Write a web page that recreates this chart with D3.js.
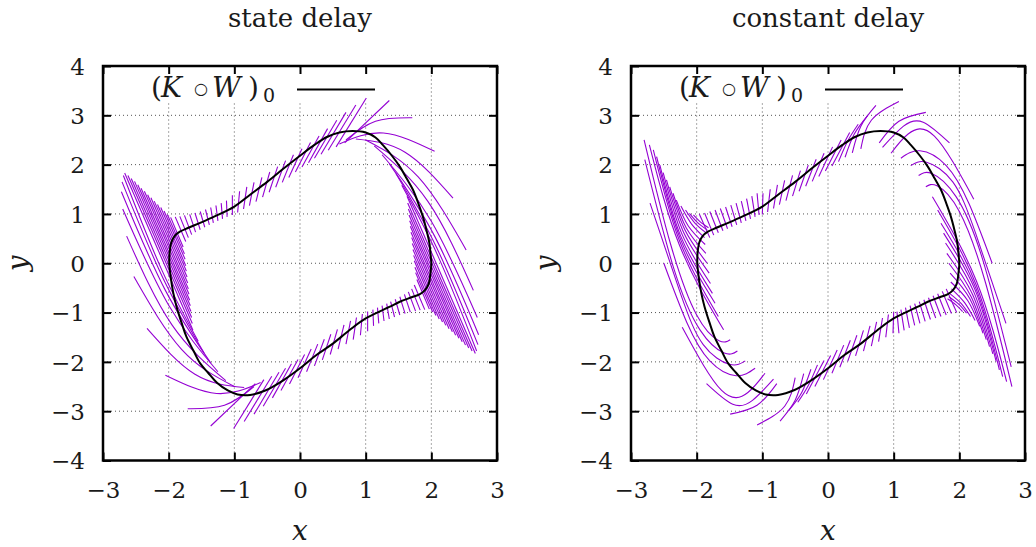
<!DOCTYPE html>
<html>
<head>
<meta charset="utf-8">
<script src="https://cdn.jsdelivr.net/npm/d3@7"></script>
<style>
  body { margin: 0; background: #fff; }
  text { font-family: "DejaVu Serif", serif; fill: #1a1a1a; }
</style>
</head>
<body>
<div id="chart"></div>
<script>
const width = 1036;
const height = 547;

// Data ///////////////////////////////////////////////////
const panelTitles = ["state delay", "constant delay"];
const legendParts = ["(", "K", "\u25CB", "W", ")", "0"];
const xTicks = [-3, -2, -1, 0, 1, 2, 3];
const yTicks = [-4, -3, -2, -1, 0, 1, 2, 3, 4];

// periodic orbit (K o W)_0
const cycle = [
  [-1.99, 0.0], [-1.985, 0.22], [-1.96, 0.42], [-1.91, 0.55], [-1.83, 0.64],
  [-1.7, 0.72], [-1.52, 0.82], [-1.3, 0.95], [-1.0, 1.15], [-0.76, 1.39],
  [-0.5, 1.65], [-0.25, 1.92], [0.0, 2.18], [0.22, 2.4], [0.41, 2.56],
  [0.6, 2.65], [0.8, 2.68], [1.0, 2.65], [1.15, 2.55], [1.26, 2.4],
  [1.4, 2.18], [1.52, 1.96], [1.62, 1.73], [1.72, 1.49], [1.8, 1.22],
  [1.87, 0.95], [1.93, 0.65], [1.97, 0.41], [1.99, 0.15], [2.0, 0.0],
  [1.985, -0.22], [1.96, -0.42], [1.9, -0.55], [1.82, -0.63], [1.7, -0.69],
  [1.52, -0.78], [1.37, -0.88], [1.0, -1.12], [0.76, -1.35], [0.5, -1.63],
  [0.25, -1.86], [0.0, -2.13], [-0.25, -2.37], [-0.51, -2.57], [-0.76, -2.67],
  [-0.95, -2.66], [-1.1, -2.58], [-1.26, -2.43], [-1.4, -2.22], [-1.52, -2.03],
  [-1.62, -1.78], [-1.73, -1.49], [-1.8, -1.22], [-1.88, -0.88], [-1.93, -0.6],
  [-1.97, -0.27]
];

// fibres, state delay: flat x,y lists (2 or 3 points each)
const stateFibers = [
  [-2.67, 1.83, -1.63, -1.36], [-2.62, 1.78, -1.64, -1.22], [-2.57, 1.72, -1.65, -1.1],
  [-2.52, 1.66, -1.66, -0.98], [-2.47, 1.59, -1.67, -0.86], [-2.42, 1.52, -1.68, -0.75],
  [-2.37, 1.46, -1.69, -0.63], [-2.32, 1.39, -1.7, -0.52], [-2.27, 1.33, -1.71, -0.4],
  [-2.22, 1.26, -1.72, -0.28], [-2.17, 1.19, -1.73, -0.16], [-2.12, 1.13, -1.74, -0.05],
  [-2.07, 1.06, -1.75, 0.08], [-2.02, 0.99, -1.76, 0.19], [-1.97, 0.93, -1.78, 0.33],
  [-1.9, 0.94, -1.74, 0.44], [-1.83, 0.95, -1.7, 0.52], [-1.76, 0.97, -1.65, 0.58],
  [-1.68, 0.99, -1.59, 0.63], [-1.6, 1.02, -1.52, 0.68], [-1.52, 1.05, -1.45, 0.73],
  [-1.44, 1.09, -1.38, 0.78], [-1.36, 1.13, -1.32, 0.82], [-1.28, 1.17, -1.25, 0.86],
  [-1.2, 1.22, -1.18, 0.9], [-1.12, 1.27, -1.11, 0.94],
  [-1.03, 0.98, -1.03, 1.38], [-0.95, 1.03, -0.92, 1.46], [-0.86, 1.1, -0.81, 1.55],
  [-0.77, 1.17, -0.7, 1.64], [-0.67, 1.25, -0.58, 1.74], [-0.57, 1.34, -0.46, 1.85],
  [-0.47, 1.44, -0.34, 1.96], [-0.37, 1.54, -0.22, 2.08], [-0.27, 1.64, -0.1, 2.2],
  [-0.17, 1.74, 0.03, 2.32], [-0.07, 1.85, 0.16, 2.45], [0.03, 1.95, 0.29, 2.58],
  [0.13, 2.04, 0.42, 2.73], [0.22, 2.13, 0.56, 2.9], [0.32, 2.21, 0.7, 3.06],
  [0.43, 2.29, 0.85, 3.21], [0.55, 2.36, 1.01, 3.35], [0.68, 2.44, 1.36, 3.3],
  [0.7, 2.5, 1.15, 2.88, 1.71, 2.95], [0.6, 2.42, 1.27, 2.64, 2.05, 2.27],
  [0.85, 2.52, 1.6, 2.25, 2.33, 1.32], [1.0, 2.5, 1.8, 1.75, 2.53, 0.27],
  [1.13, 2.38, 1.95, 1.25, 2.64, -0.55], [1.25, 2.2, 2.0, 0.85, 2.7, -1.1],
  [1.36, 2.02, 2.05, 0.55, 2.72, -1.45], [1.46, 1.82, 2.08, 0.32, 2.71, -1.65],
  [1.55, 1.58, 2.1, 0.15, 2.69, -1.78],
  [2.67, -1.83, 1.63, 1.36], [2.62, -1.78, 1.64, 1.22], [2.57, -1.72, 1.65, 1.1],
  [2.52, -1.66, 1.66, 0.98], [2.47, -1.59, 1.67, 0.86], [2.42, -1.52, 1.68, 0.75],
  [2.37, -1.46, 1.69, 0.63], [2.32, -1.39, 1.7, 0.52], [2.27, -1.33, 1.71, 0.4],
  [2.22, -1.26, 1.72, 0.28], [2.17, -1.19, 1.73, 0.16], [2.12, -1.13, 1.74, 0.05],
  [2.07, -1.06, 1.75, -0.08], [2.02, -0.99, 1.76, -0.19], [1.97, -0.93, 1.78, -0.33],
  [1.9, -0.94, 1.74, -0.44], [1.83, -0.95, 1.7, -0.52], [1.76, -0.97, 1.65, -0.58],
  [1.68, -0.99, 1.59, -0.63], [1.6, -1.02, 1.52, -0.68], [1.52, -1.05, 1.45, -0.73],
  [1.44, -1.09, 1.38, -0.78], [1.36, -1.13, 1.32, -0.82], [1.28, -1.17, 1.25, -0.86],
  [1.2, -1.22, 1.18, -0.9], [1.12, -1.27, 1.11, -0.94],
  [1.03, -0.98, 1.03, -1.38], [0.95, -1.03, 0.92, -1.46], [0.86, -1.1, 0.81, -1.55],
  [0.77, -1.17, 0.7, -1.64], [0.67, -1.25, 0.58, -1.74], [0.57, -1.34, 0.46, -1.85],
  [0.47, -1.44, 0.34, -1.96], [0.37, -1.54, 0.22, -2.08], [0.27, -1.64, 0.1, -2.2],
  [0.17, -1.74, -0.03, -2.32], [0.07, -1.85, -0.16, -2.45], [-0.03, -1.95, -0.29, -2.58],
  [-0.13, -2.04, -0.42, -2.73], [-0.22, -2.13, -0.56, -2.9], [-0.32, -2.21, -0.7, -3.06],
  [-0.43, -2.29, -0.85, -3.21], [-0.55, -2.36, -1.01, -3.35], [-0.68, -2.44, -1.36, -3.3],
  [-0.7, -2.5, -1.15, -2.88, -1.71, -2.95], [-0.6, -2.42, -1.27, -2.64, -2.05, -2.27],
  [-0.85, -2.52, -1.6, -2.25, -2.33, -1.32], [-1.0, -2.5, -1.8, -1.75, -2.53, -0.27],
  [-1.13, -2.38, -1.95, -1.25, -2.64, 0.55], [-1.25, -2.2, -2.0, -0.85, -2.7, 1.1],
  [-1.36, -2.02, -2.05, -0.55, -2.72, 1.45], [-1.46, -1.82, -2.08, -0.32, -2.71, 1.65],
  [-1.55, -1.58, -2.1, -0.15, -2.69, 1.78]
];

// fibres, constant delay
const constFibers = [
  [-2.72, 2.4, -2.26, 0.36, -1.59, -1.35], [-2.66, 2.3, -2.26, 0.45, -1.67, -1.08],
  [-2.61, 2.16, -2.25, 0.5, -1.72, -0.81], [-2.56, 1.99, -2.24, 0.54, -1.76, -0.61],
  [-2.51, 1.84, -2.22, 0.58, -1.79, -0.41], [-2.46, 1.69, -2.2, 0.63, -1.81, -0.2],
  [-2.41, 1.55, -2.18, 0.68, -1.84, 0.0], [-2.36, 1.42, -2.16, 0.72, -1.86, 0.2],
  [-2.31, 1.28, -2.13, 0.76, -1.87, 0.38], [-2.24, 1.16, -2.08, 0.8, -1.88, 0.52],
  [-2.17, 1.08, -2.03, 0.82, -1.86, 0.62], [-2.11, 1.01, -1.99, 0.83, -1.84, 0.68],
  [-2.05, 0.98, -1.945, 0.84, -1.82, 0.72],
  [-1.96, 1.0, -1.8, 0.52], [-1.88, 1.02, -1.74, 0.57], [-1.8, 1.05, -1.67, 0.62],
  [-1.72, 1.08, -1.6, 0.66], [-1.64, 1.11, -1.53, 0.7], [-1.56, 1.14, -1.46, 0.74],
  [-1.48, 1.18, -1.39, 0.78], [-1.4, 1.22, -1.32, 0.82], [-1.32, 1.26, -1.25, 0.86],
  [-1.24, 1.31, -1.18, 0.9], [-1.16, 1.36, -1.11, 0.94], [-1.08, 1.42, -1.05, 0.98],
  [-1.0, 0.99, -0.99, 1.42], [-0.92, 1.04, -0.88, 1.5], [-0.83, 1.11, -0.77, 1.59],
  [-0.74, 1.19, -0.66, 1.68], [-0.64, 1.27, -0.54, 1.78], [-0.54, 1.36, -0.42, 1.88],
  [-0.44, 1.46, -0.3, 1.99], [-0.34, 1.56, -0.18, 2.11], [-0.24, 1.66, -0.06, 2.23],
  [-0.14, 1.76, 0.07, 2.36], [-0.04, 1.87, 0.2, 2.5], [0.06, 1.97, 0.33, 2.65],
  [0.16, 2.06, 0.3, 2.48, 0.46, 2.82], [0.26, 2.15, 0.4, 2.62, 0.6, 2.99],
  [0.37, 2.24, 0.5, 2.78, 0.73, 3.2], [0.5, 2.32, 0.66, 2.9, 1.08, 3.28],
  [0.78, 2.44, 1.08, 2.88, 1.49, 3.06],
  [0.83, 2.35, 1.15, 2.78, 1.45, 2.86, 1.85, 2.44],
  [0.96, 2.23, 1.22, 2.62, 1.62, 2.58, 2.22, 1.3],
  [1.11, 2.13, 1.4, 2.28, 1.8, 1.98, 2.15, 1.2, 2.5, 0.0],
  [1.26, 1.98, 1.5, 2.05, 1.9, 1.65, 2.25, 0.6, 2.71, -1.22],
  [1.38, 1.78, 1.58, 1.82, 1.95, 1.35, 2.35, 0.1, 2.79, -2.1],
  [1.49, 1.55, 1.66, 1.57, 2.0, 1.05, 2.4, -0.4, 2.8, -2.5],
  [2.72, -2.4, 2.26, -0.36, 1.59, 1.35], [2.66, -2.3, 2.26, -0.45, 1.67, 1.08],
  [2.61, -2.16, 2.25, -0.5, 1.72, 0.81], [2.56, -1.99, 2.24, -0.54, 1.76, 0.61],
  [2.51, -1.84, 2.22, -0.58, 1.79, 0.41], [2.46, -1.69, 2.2, -0.63, 1.81, 0.2],
  [2.41, -1.55, 2.18, -0.68, 1.84, 0.0], [2.36, -1.42, 2.16, -0.72, 1.86, -0.2],
  [2.31, -1.28, 2.13, -0.76, 1.87, -0.38], [2.24, -1.16, 2.08, -0.8, 1.88, -0.52],
  [2.17, -1.08, 2.03, -0.82, 1.86, -0.62], [2.11, -1.01, 1.99, -0.83, 1.84, -0.68],
  [2.05, -0.98, 1.945, -0.84, 1.82, -0.72],
  [1.96, -1.0, 1.8, -0.52], [1.88, -1.02, 1.74, -0.57], [1.8, -1.05, 1.67, -0.62],
  [1.72, -1.08, 1.6, -0.66], [1.64, -1.11, 1.53, -0.7], [1.56, -1.14, 1.46, -0.74],
  [1.48, -1.18, 1.39, -0.78], [1.4, -1.22, 1.32, -0.82], [1.32, -1.26, 1.25, -0.86],
  [1.24, -1.31, 1.18, -0.9], [1.16, -1.36, 1.11, -0.94], [1.08, -1.42, 1.05, -0.98],
  [1.0, -0.99, 0.99, -1.42], [0.92, -1.04, 0.88, -1.5], [0.83, -1.11, 0.77, -1.59],
  [0.74, -1.19, 0.66, -1.68], [0.64, -1.27, 0.54, -1.78], [0.54, -1.36, 0.42, -1.88],
  [0.44, -1.46, 0.3, -1.99], [0.34, -1.56, 0.18, -2.11], [0.24, -1.66, 0.06, -2.23],
  [0.14, -1.76, -0.07, -2.36], [0.04, -1.87, -0.2, -2.5], [-0.06, -1.97, -0.33, -2.65],
  [-0.16, -2.06, -0.3, -2.48, -0.46, -2.82], [-0.26, -2.15, -0.4, -2.62, -0.6, -2.99],
  [-0.37, -2.24, -0.5, -2.78, -0.73, -3.2], [-0.5, -2.32, -0.66, -2.9, -1.08, -3.28],
  [-0.78, -2.44, -1.08, -2.88, -1.49, -3.06],
  [-0.83, -2.35, -1.15, -2.78, -1.45, -2.86, -1.85, -2.44],
  [-0.96, -2.23, -1.22, -2.62, -1.62, -2.58, -2.22, -1.3],
  [-1.11, -2.13, -1.4, -2.28, -1.8, -1.98, -2.15, -1.2, -2.5, 0.0],
  [-1.26, -1.98, -1.5, -2.05, -1.9, -1.65, -2.25, -0.6, -2.71, 1.22],
  [-1.38, -1.78, -1.58, -1.82, -1.95, -1.35, -2.35, -0.1, -2.79, 2.1],
  [-1.49, -1.55, -1.66, -1.57, -2.0, -1.05, -2.4, 0.4, -2.8, 2.5]
];

const panelFibers = [stateFibers, constFibers];

// Layout /////////////////////////////////////////////////
const plotLefts = [103, 631];
const plotWidth = 394;
const plotTop = 66;
const plotBottom = 460.5;
const fiberColor = "#9400d3";
// key glyph offsets from the plot's left edge, and their sizes
const keyOffsets = [48, 58, 91, 109, 145, 160];
const keySizes = [28, 28, 16, 28, 28, 19];

const svg = d3
  .select("#chart")
  .append("svg")
  .attr("width", width)
  .attr("height", height);

const fmt = d => (d < 0 ? "\u2212" + Math.abs(d) : String(d));

panelTitles.forEach((title, p) => {
  const left = plotLefts[p];
  const x = d3.scaleLinear().domain([-3, 3]).range([left, left + plotWidth]);
  const y = d3.scaleLinear().domain([-4, 4]).range([plotBottom, plotTop]);
  const g = svg.append("g");

  // grid
  g.selectAll(".gx")
    .data(xTicks.slice(1, -1))
    .enter()
    .append("line")
    .attr("x1", d => x(d))
    .attr("x2", d => x(d))
    .attr("y1", plotBottom)
    .attr("y2", plotTop)
    .attr("stroke", "#555")
    .attr("stroke-width", 1)
    .attr("stroke-dasharray", "1,3");
  g.selectAll(".gy")
    .data(yTicks.slice(1, -1))
    .enter()
    .append("line")
    .attr("x1", left)
    .attr("x2", left + plotWidth)
    .attr("y1", d => y(d))
    .attr("y2", d => y(d))
    .attr("stroke", "#555")
    .attr("stroke-width", 1)
    .attr("stroke-dasharray", "1,3");

  // opaque key box
  g.append("rect")
    .attr("x", left + 37)
    .attr("y", plotTop + 2)
    .attr("width", 248)
    .attr("height", 35)
    .attr("fill", "#fff");

  // fibres
  const clipId = "clip" + p;
  svg.append("clipPath")
    .attr("id", clipId)
    .append("rect")
    .attr("x", left)
    .attr("y", plotTop)
    .attr("width", plotWidth)
    .attr("height", plotBottom - plotTop);

  const fiberLine = d3
    .line()
    .x(d => x(d[0]))
    .y(d => y(d[1]))
    .curve(d3.curveNatural);

  g.append("g")
    .attr("clip-path", `url(#${clipId})`)
    .selectAll("path")
    .data(panelFibers[p])
    .enter()
    .append("path")
    .attr("d", d => {
      const pts = [];
      for (let i = 0; i < d.length; i += 2) pts.push([d[i], d[i + 1]]);
      return fiberLine(pts);
    })
    .attr("fill", "none")
    .attr("stroke", fiberColor)
    .attr("stroke-width", 1.1);

  // orbit
  g.append("path")
    .datum(cycle)
    .attr(
      "d",
      d3.line()
        .x(d => x(d[0]))
        .y(d => y(d[1]))
        .curve(d3.curveCatmullRomClosed.alpha(0.5))
    )
    .attr("fill", "none")
    .attr("stroke", "#000")
    .attr("stroke-width", 2);

  // axes
  const styleAxis = sel => {
    sel.select(".domain").remove();
    sel.selectAll(".tick line").attr("stroke", "#000").attr("stroke-width", 2);
    sel.selectAll("text")
      .style("font-family", "DejaVu Serif")
      .style("font-size", "23px")
      .attr("fill", "#1a1a1a");
  };
  g.append("g")
    .attr("transform", `translate(0,${plotBottom})`)
    .call(d3.axisBottom(x).tickValues(xTicks).tickSize(-8).tickPadding(21).tickFormat(fmt))
    .call(styleAxis);
  g.append("g")
    .attr("transform", `translate(0,${plotTop})`)
    .call(d3.axisTop(x).tickValues(xTicks).tickSize(-8).tickFormat(""))
    .call(styleAxis);
  g.append("g")
    .attr("transform", `translate(${left},0)`)
    .call(d3.axisLeft(y).tickValues(yTicks).tickSize(-8).tickPadding(18).tickFormat(fmt))
    .call(styleAxis)
    .selectAll("text")
    .attr("dy", "0.36em");
  g.append("g")
    .attr("transform", `translate(${left + plotWidth},0)`)
    .call(d3.axisRight(y).tickValues(yTicks).tickSize(-8).tickFormat(""))
    .call(styleAxis);

  // frame
  g.append("rect")
    .attr("x", left)
    .attr("y", plotTop)
    .attr("width", plotWidth)
    .attr("height", plotBottom - plotTop)
    .attr("fill", "none")
    .attr("stroke", "#000")
    .attr("stroke-width", 2.5);

  // title and axis labels
  g.append("text")
    .attr("x", x(0))
    .attr("y", 27)
    .attr("text-anchor", "middle")
    .style("font-size", "26px")
    .text(title);
  g.append("text")
    .attr("x", x(0))
    .attr("y", 540)
    .attr("text-anchor", "middle")
    .style("font-size", "28px")
    .style("font-style", "italic")
    .text("x");
  g.append("text")
    .attr("transform", `translate(${left - 76},${y(0)}) rotate(-90)`)
    .attr("text-anchor", "middle")
    .style("font-size", "28px")
    .style("font-style", "italic")
    .text("y");

  // key
  const key = g.append("text").attr("y", 97);
  legendParts.forEach((s, i) => {
    const t = key.append("tspan")
      .attr("x", left + keyOffsets[i])
      .style("font-size", keySizes[i] + "px")
      .text(s);
    if (s === "K" || s === "W") t.style("font-style", "italic");
    if (i === 2) t.attr("dy", -3);
    if (i === 3) t.attr("dy", 3);
    if (i === legendParts.length - 1) t.attr("dy", 5);
  });
  g.append("line")
    .attr("x1", left + 194)
    .attr("x2", left + 272)
    .attr("y1", 89.5)
    .attr("y2", 89.5)
    .attr("stroke", "#000")
    .attr("stroke-width", 2);
});
</script>
</body>
</html>
